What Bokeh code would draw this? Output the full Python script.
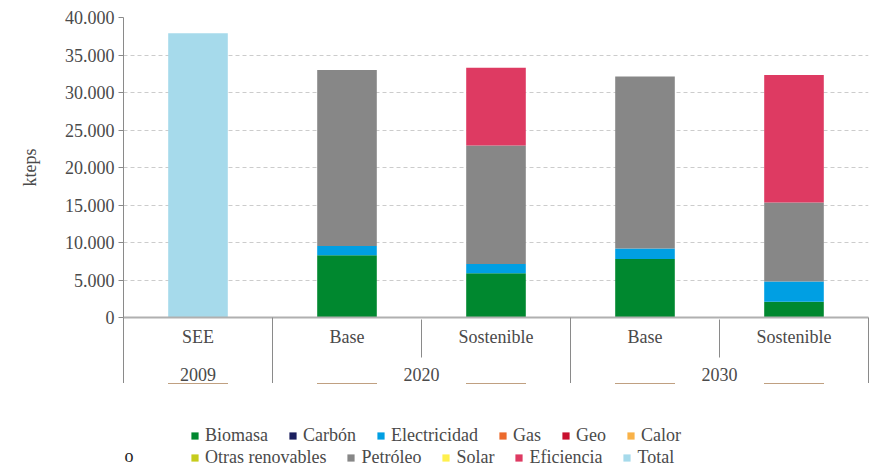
from bokeh.plotting import figure
from bokeh.layouts import column
from bokeh.models import (Range1d, LinearAxis, FixedTicker, Legend, LegendItem, Label)
from bokeh.embed import file_html
from bokeh.resources import INLINE

# ---------------- data ----------------
scenarios = ["SEE", "Base", "Sostenible", "Base", "Sostenible"]
years = ["2009", "2020", "2020", "2030", "2030"]

series_names = ["Biomasa", "Carbón", "Electricidad", "Gas", "Geo", "Calor",
                "Otras renovables", "Petróleo", "Solar", "Eficiencia", "Total"]
biomasa = [0, 8300, 5900, 7800, 2100]
carbon = [0, 0, 0, 0, 0]
electricidad = [0, 1250, 1250, 1400, 2700]
gas = [0, 0, 0, 0, 0]
geo = [0, 0, 0, 0, 0]
calor = [0, 0, 0, 0, 0]
otras_renovables = [0, 0, 0, 0, 0]
petroleo = [0, 23450, 15800, 22950, 10550]
solar = [0, 0, 0, 0, 0]
eficiencia = [0, 0, 10350, 0, 17000]
total = [37900, 0, 0, 0, 0]

colors = ["#00882f", "#1b1f5e", "#009fe3", "#ec6a2c", "#c8102e", "#f9b248",
          "#c6cc1c", "#878787", "#fff04d", "#de3a62", "#a6daeb"]

y_ticks = [0, 5000, 10000, 15000, 20000, 25000, 30000, 35000, 40000]

FONT = "Liberation Serif"
TXT = "#4a4a4a"
FS = "18px"
LINE = "#8a8a8a"

# ---------------- chart ----------------
n = len(scenarios)
pos = [i + 0.5 for i in range(n)]

all_series = [biomasa, carbon, electricidad, gas, geo, calor,
              otras_renovables, petroleo, solar, eficiencia, total]
data = {"x": pos}
keys = []
for i, vals in enumerate(all_series):
    k = "s%d" % i
    keys.append(k)
    data[k] = vals

p = figure(frame_width=745, frame_height=300, x_range=Range1d(0, n), y_range=Range1d(0, 40000),
           output_backend="svg", toolbar_location=None,
           min_border_left=123, min_border_right=2, min_border_top=17, min_border_bottom=0)
p.outline_line_color = None
p.background_fill_color = "white"

p.vbar_stack(keys, x="x", width=0.4, source=data, color=colors, line_color=None)

# y axis
p.yaxis.ticker = FixedTicker(ticks=y_ticks)
p.yaxis.major_label_overrides = {v: "{:,}".format(v).replace(",", ".") for v in y_ticks}
p.yaxis.axis_label = "kteps"
p.yaxis.axis_label_text_font = FONT
p.yaxis.axis_label_text_font_size = FS
p.yaxis.axis_label_text_font_style = "normal"
p.yaxis.axis_label_text_color = TXT
p.yaxis.axis_label_standoff = 22
p.yaxis.major_label_text_font = FONT
p.yaxis.major_label_text_font_size = FS
p.yaxis.major_label_text_color = TXT
p.yaxis.axis_line_color = LINE
p.yaxis.major_tick_line_color = LINE
p.yaxis.major_tick_in = 0
p.yaxis.major_tick_out = 5
p.yaxis.minor_tick_line_color = None
p.yaxis.major_label_standoff = 4

p.ygrid.ticker = FixedTicker(ticks=y_ticks)
p.ygrid.grid_line_color = "#cccccc"
p.ygrid.grid_line_dash = "4 3"
p.xgrid.grid_line_color = None

def okey(v):
    return int(v) if float(v).is_integer() else v

inner_bounds = [i for i in range(1, n) if years[i] == years[i - 1]]
outer_bounds = [0] + [i for i in range(1, n) if years[i] != years[i - 1]] + [n]

# x axis level 1 (scenarios) - also draws the long year separators
ax1 = p.xaxis[0]
ax1.ticker = FixedTicker(ticks=pos, minor_ticks=outer_bounds)
ax1.major_label_overrides = {okey(x): s for x, s in zip(pos, scenarios)}
ax1.major_tick_in = 0
ax1.major_tick_out = 0
ax1.minor_tick_in = -71
ax1.minor_tick_out = 0
ax1.minor_tick_line_color = LINE
ax1.axis_line_color = "#b0b0b0"
ax1.axis_line_width = 2
ax1.major_label_text_font = FONT
ax1.major_label_text_font_size = FS
ax1.major_label_text_color = TXT
ax1.major_label_standoff = 9

# x axis level 2 (years) - also draws the short scenario separators
groups = []
for a, b in zip(outer_bounds[:-1], outer_bounds[1:]):
    groups.append(((a + b) / 2, years[a]))
ax2 = LinearAxis(ticker=FixedTicker(ticks=[g[0] for g in groups], minor_ticks=inner_bounds),
                 major_label_overrides={okey(c): y for c, y in groups})
ax2.axis_line_color = None
ax2.major_tick_in = 0
ax2.major_tick_out = 0
ax2.minor_tick_in = 30
ax2.minor_tick_out = 8
ax2.minor_tick_line_color = LINE
ax2.major_label_text_font = FONT
ax2.major_label_text_font_size = FS
ax2.major_label_text_color = TXT
ax2.major_label_standoff = 10
p.add_layout(ax2, "below")

# ---------------- legend strip ----------------
# the strip's y range lies below the data, so its renderers only feed the legend swatches
p2 = figure(width=870, height=84, x_range=Range1d(0, n), y_range=Range1d(-100000, -90000),
            output_backend="svg", toolbar_location=None,
            x_axis_location=None, y_axis_location=None,
            min_border_left=0, min_border_right=0, min_border_top=0, min_border_bottom=0)
p2.outline_line_color = None
p2.xgrid.visible = False
p2.ygrid.visible = False

legend_renderers = [p2.vbar(x=pos, top=vals, width=0.4, fill_color=c, line_color=None)
                    for vals, c in zip(all_series, colors)]
items = [LegendItem(label=name, renderers=[r]) for name, r in zip(series_names, legend_renderers)]

def mk_legend(its, loc):
    lg = Legend(items=its, location=loc, orientation="horizontal")
    lg.glyph_width = 9
    lg.glyph_height = 9
    lg.label_standoff = 6
    lg.spacing = 20
    lg.padding = 0
    lg.margin = 0
    lg.border_line_color = None
    lg.background_fill_alpha = 0
    lg.label_text_font = FONT
    lg.label_text_font_size = FS
    lg.label_text_color = TXT
    return lg

p2.add_layout(mk_legend(items[:6], (67, 21)))
p2.add_layout(mk_legend(items[6:], (67, -1)))

p2.add_layout(Label(x=1, y=2, x_units="screen", y_units="screen", text="o",
                    text_font=FONT, text_font_size=FS, text_color="#222222"))

open("out.html", "w").write(file_html(column(p, p2, spacing=0), INLINE))
